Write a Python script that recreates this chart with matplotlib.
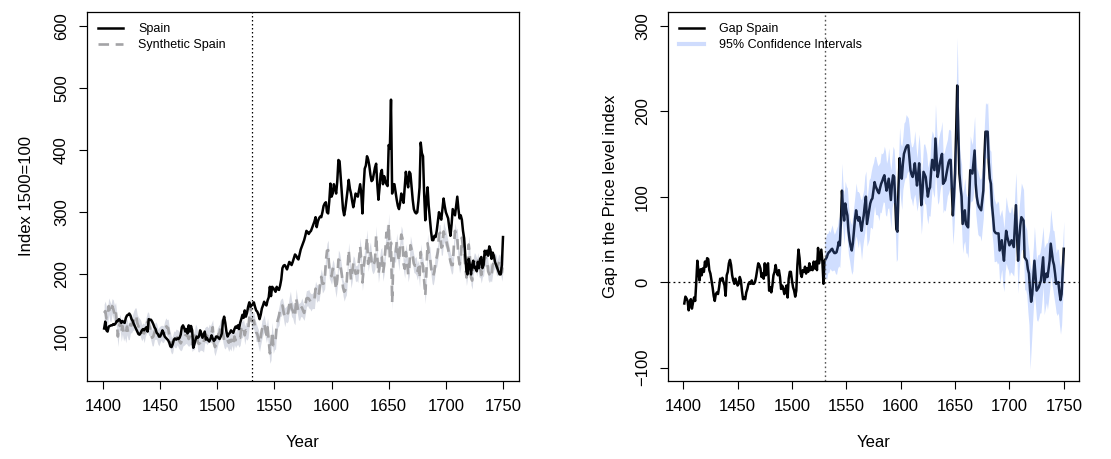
import matplotlib
matplotlib.use("Agg")
import matplotlib.pyplot as plt
import numpy as np
from matplotlib.lines import Line2D

plt.rcParams['font.family'] = ['Liberation Sans', 'DejaVu Sans']

years = np.arange(1401, 1751)

# price index of Spain (1500=100)
spain = [
    113, 124, 110, 108, 116, 117, 118, 118, 120, 119,
    121, 125, 125, 128, 126, 122, 125, 123, 122, 130,
    134, 135, 137, 134, 128, 125, 120, 116, 112, 108,
    104, 103, 106, 110, 112, 110, 113, 115, 108, 128,
    127, 127, 124, 120, 115, 112, 106, 104, 100, 100,
    104, 110, 106, 100, 98, 96, 94, 90, 84, 83,
    88, 95, 97, 95, 97, 96, 98, 103, 115, 118,
    114, 108, 112, 105, 118, 108, 117, 110, 82, 88,
    95, 100, 98, 100, 110, 105, 98, 103, 108, 95,
    98, 94, 92, 96, 102, 97, 93, 95, 100, 100,
    98, 96, 100, 105, 125, 132, 122, 108, 100, 104,
    106, 110, 108, 106, 112, 116, 114, 118, 112, 122,
    128, 135, 130, 142, 132, 138, 148, 155, 148, 150,
    152, 155, 148, 142, 140, 135, 128, 135, 145, 150,
    156, 152, 150, 158, 163, 180, 165, 180, 178, 175,
    172, 180, 176, 175, 182, 192, 210, 214, 215, 212,
    208, 214, 220, 218, 215, 220, 226, 232, 230, 226,
    224, 232, 240, 245, 250, 255, 262, 270, 268, 265,
    268, 270, 275, 280, 285, 292, 276, 285, 290, 293,
    292, 300, 310, 314, 316, 300, 298, 318, 346, 325,
    330, 345, 338, 330, 350, 384, 382, 355, 330, 305,
    295, 305, 320, 335, 352, 338, 330, 318, 308, 318,
    330, 328, 325, 335, 345, 330, 298, 340, 370, 375,
    390, 385, 375, 360, 350, 352, 362, 372, 378, 345,
    320, 340, 362, 368, 345, 358, 350, 345, 342, 408,
    402, 481, 330, 345, 345, 332, 320, 310, 305, 315,
    330, 322, 315, 340, 365, 350, 340, 365, 362, 340,
    320, 305, 300, 298, 300, 318, 340, 412, 395, 390,
    330, 287, 320, 340, 310, 290, 270, 255, 255, 262,
    260, 270, 285, 300, 292, 288, 305, 322, 310, 300,
    295, 290, 275, 262, 280, 305, 300, 295, 310, 325,
    305, 290, 295, 288, 270, 258, 230, 205, 200, 225,
    215, 200, 215, 222, 210, 212, 205, 220, 210, 225,
    228, 210, 215, 238, 232, 238, 230, 245, 240, 225,
    235, 230, 220, 215, 210, 205, 200, 200, 215, 260,
]

# gap Spain - synthetic Spain
gap = [
    -25, -17, -19, -22, -33, -24, -20, -31, -24, -18,
    -22, 0, 25, 12, 2, 15, 8, 16, 12, 24,
    18, 28, 27, 14, 10, 2, -6, -16, -22, -14,
    -12, -14, -6, 4, 2, 5, 0, -4, -16, 8,
    12, 22, 26, 20, 8, 2, -2, 4, 0, -4,
    -2, 6, 2, -10, -20, -18, -20, -12, -8, -2,
    0, -2, 2, -2, -2, 0, 6, 14, 22, 20,
    16, 6, 10, 4, 22, 8, 18, 22, -10, -6,
    -12, -4, 8, 12, 20, 12, 8, 14, 6, -8,
    -4, -8, -14, -8, -4, -18, 4, 12, 12, 2,
    -6, -10, -17, -10, 20, 38, 28, 10, 6, 14,
    12, 18, 10, 16, 12, 22, 14, 18, 14, 24,
    16, 24, 14, 40, 22, 30, 38, 24, -2, 25,
    27, 29, 33, 35, 36, 38, 39, 36, 34, 34,
    35, 40, 47, 43, 70, 107, 85, 72, 92, 84,
    78, 60, 49, 42, 37, 45, 60, 74, 84, 76,
    72, 76, 68, 60, 70, 78, 90, 100, 68, 76,
    84, 92, 96, 98, 108, 117, 112, 109, 106, 104,
    110, 115, 118, 122, 125, 115, 107, 114, 121, 108,
    96, 115, 125, 123, 95, 62, 59, 110, 145, 128,
    121, 138, 150, 154, 158, 160, 160, 145, 131, 126,
    123, 130, 139, 126, 113, 125, 139, 115, 90, 105,
    129, 126, 123, 112, 100, 108, 111, 130, 143, 137,
    131, 168, 145, 123, 130, 139, 145, 150, 115, 117,
    119, 126, 133, 140, 143, 143, 112, 78, 100, 127,
    175, 230, 175, 127, 112, 100, 68, 76, 84, 68,
    66, 64, 98, 131, 129, 127, 140, 154, 115, 100,
    92, 88, 86, 84, 96, 107, 146, 176, 176, 176,
    140, 121, 115, 90, 76, 60, 58, 57, 57, 57,
    37, 43, 49, 35, 25, 45, 60, 53, 48, 43,
    46, 49, 45, 41, 65, 90, 55, 25, 50, 66,
    76, 74, 72, 29, 27, 25, 15, 10, -10, -23,
    -14, 5, 25, 8, -10, -8, -6, -2, 2, 15,
    29, 0, 5, 10, 6, 15, 25, 45, 35, 25,
    20, 10, -2, -1, 0, -12, -21, -14, 12, 39,
]

# half width of the grey band around synthetic Spain
sc_half = [
    14, 16, 18, 15, 13, 16, 14, 12, 15, 13,
    12, 14, 16, 13, 12, 15, 13, 14, 12, 16,
    13, 12, 15, 14, 12, 13, 16, 14, 12, 13,
    15, 12, 14, 13, 12, 15, 13, 14, 16, 18,
    14, 12, 13, 15, 12, 14, 13, 12, 15, 13,
    12, 14, 13, 15, 12, 13, 14, 12, 15, 13,
    14, 12, 13, 15, 12, 14, 13, 12, 14, 13,
    12, 14, 13, 15, 12, 13, 14, 12, 13, 15,
    13, 12, 14, 13, 12, 15, 13, 14, 12, 13,
    15, 12, 14, 13, 16, 12, 13, 14, 12, 15,
    13, 14, 12, 13, 15, 12, 14, 13, 12, 14,
    13, 15, 12, 14, 13, 12, 14, 13, 15, 12,
    14, 13, 12, 15, 13, 14, 12, 13, 16, 14,
    12, 14, 13, 15, 12, 14, 13, 12, 15, 13,
    14, 12, 13, 15, 14, 16, 18, 15, 13, 12,
    14, 13, 12, 15, 13, 14, 12, 13, 15, 12,
    14, 13, 12, 15, 13, 12, 14, 13, 15, 12,
    13, 14, 12, 15, 13, 12, 14, 13, 12, 15,
    13, 14, 12, 13, 15, 12, 14, 13, 12, 14,
    13, 15, 12, 14, 13, 12, 16, 14, 12, 13,
    15, 12, 14, 13, 12, 15, 13, 14, 12, 13,
    15, 12, 14, 13, 12, 14, 13, 15, 12, 14,
    13, 12, 15, 13, 14, 12, 13, 15, 12, 14,
    13, 12, 14, 15, 13, 12, 14, 13, 15, 12,
    14, 13, 12, 15, 13, 14, 12, 13, 15, 17,
    14, 13, 12, 15, 13, 12, 14, 13, 15, 12,
    14, 13, 12, 15, 13, 14, 12, 13, 15, 12,
    13, 14, 12, 15, 13, 12, 14, 13, 15, 12,
    14, 13, 12, 15, 13, 14, 12, 13, 15, 12,
    13, 14, 12, 15, 13, 12, 14, 16, 15, 14,
    13, 12, 14, 13, 15, 12, 14, 13, 12, 15,
    13, 14, 12, 15, 13, 12, 14, 13, 15, 14,
    13, 12, 14, 13, 15, 12, 14, 13, 12, 15,
    13, 14, 12, 15, 13, 12, 14, 13, 15, 12,
    14, 13, 12, 15, 13, 14, 12, 13, 14, 15,
]

# 95% confidence interval of the gap, 1530-1750 (distance above / below)
ci_start = 1530
ci_up = [
    22, 25, 28, 24, 26, 22, 25, 28, 24, 22,
    25, 28, 26, 30, 28, 30, 32, 28, 30, 26,
    28, 32, 30, 26, 28, 30, 34, 30, 28, 32,
    30, 34, 28, 30, 36, 32, 30, 34, 30, 28,
    32, 36, 30, 34, 38, 32, 30, 35, 32, 30,
    34, 30, 36, 32, 30, 34, 38, 32, 30, 36,
    32, 35, 30, 34, 32, 36, 40, 34, 32, 36,
    34, 38, 32, 36, 34, 38, 34, 32, 36, 34,
    32, 36, 34, 38, 34, 32, 36, 34, 38, 36,
    34, 32, 36, 34, 38, 34, 32, 36, 38, 34,
    36, 34, 40, 36, 34, 38, 36, 34, 38, 36,
    34, 38, 36, 34, 38, 36, 34, 38, 36, 40,
    38, 45, 56, 42, 36, 34, 38, 36, 34, 38,
    36, 34, 38, 36, 40, 36, 34, 38, 40, 36,
    34, 38, 36, 34, 38, 36, 34, 38, 34, 32,
    34, 36, 34, 38, 36, 34, 38, 36, 34, 38,
    36, 40, 38, 36, 40, 38, 36, 40, 38, 36,
    38, 36, 40, 38, 36, 40, 38, 36, 40, 38,
    36, 40, 38, 36, 40, 38, 36, 30, 26, 30,
    36, 38, 36, 40, 38, 36, 40, 38, 36, 40,
    38, 36, 40, 38, 36, 40, 38, 36, 40, 38,
    36, 40, 38, 36, 40, 38, 36, 38, 36, 34,
    32,
]
ci_dn = [
    20, 22, 26, 22, 24, 20, 24, 26, 22, 20,
    24, 26, 24, 28, 26, 28, 30, 26, 28, 24,
    26, 30, 28, 24, 26, 28, 32, 28, 26, 30,
    28, 32, 26, 28, 34, 30, 28, 32, 28, 26,
    30, 34, 28, 32, 36, 30, 28, 33, 30, 28,
    32, 28, 34, 30, 28, 32, 36, 30, 28, 34,
    30, 33, 28, 32, 30, 34, 38, 32, 30, 34,
    32, 36, 30, 34, 32, 36, 32, 30, 34, 32,
    30, 34, 32, 36, 32, 30, 34, 32, 36, 34,
    32, 30, 34, 32, 36, 32, 30, 34, 36, 32,
    34, 32, 38, 34, 32, 36, 34, 32, 36, 34,
    32, 36, 34, 32, 36, 34, 32, 36, 34, 38,
    36, 40, 48, 40, 34, 32, 36, 34, 32, 36,
    34, 32, 36, 34, 38, 34, 32, 36, 38, 34,
    32, 36, 34, 32, 36, 34, 32, 36, 32, 30,
    32, 34, 32, 36, 34, 32, 36, 34, 32, 36,
    34, 38, 36, 34, 38, 36, 34, 38, 36, 34,
    36, 34, 38, 36, 34, 38, 36, 34, 38, 36,
    34, 38, 36, 34, 38, 36, 40, 50, 60, 92,
    55, 40, 36, 38, 36, 34, 38, 36, 34, 38,
    36, 34, 38, 36, 34, 38, 36, 34, 38, 36,
    34, 38, 36, 34, 38, 36, 38, 40, 36, 32,
    30,
]

spain = np.array(spain, dtype=float)
gap = np.array(gap, dtype=float)
synth = spain - gap
sc_half = np.array(sc_half, dtype=float)
ci_up = np.array(ci_up, dtype=float)
ci_dn = np.array(ci_dn, dtype=float)

fig = plt.figure(figsize=(11.11, 4.59), dpi=100)
W, H = 1111, 459
ax1 = fig.add_axes([87 / W, 1 - 381 / H, (519 - 87) / W, (381 - 12) / H])
ax2 = fig.add_axes([668 / W, 1 - 381 / H, (1079 - 668) / W, (381 - 12) / H])

# left panel
ax1.fill_between(years, synth - sc_half, synth + sc_half, color='#d8dbe4', lw=0)
ax1.plot(years, synth, color='#a3a3a6', lw=1.9, ls=(0, (4, 2.5)))
ax1.plot(years, spain, color='black', lw=1.8)
ax1.axvline(1530, color='black', lw=0.9, ls=(0, (1.2, 2)))
ax1.set_xlim(1386, 1764)
ax1.set_ylim(28.5, 622)
ax1.set_yticks([100, 200, 300, 400, 500, 600])
ax1.set_ylabel('Index 1500=100', fontsize=12, labelpad=14)
ax1.legend(handles=[Line2D([], [], color='black', lw=1.8),
                    Line2D([], [], color='#a3a3a6', lw=1.9, ls=(0, (4, 2.5)))],
           labels=['Spain', 'Synthetic Spain'], loc='upper left', frameon=False,
           fontsize=9, handlelength=2.0, labelspacing=0.3, borderaxespad=0.5,
           handletextpad=1.2)

# right panel: band drawn over the line, as in the original
ax2.plot(years, gap, color='black', lw=1.8)
m = years >= ci_start
ax2.fill_between(years[m], gap[m] - ci_dn, gap[m] + ci_up,
                 color=(0.34, 0.54, 1.0), alpha=0.28, lw=0, zorder=3)
ax2.axvline(1530, color='#555555', lw=1.0, ls=(0, (1.2, 2)), zorder=4)
ax2.axhline(0, color='black', lw=0.9, ls=(0, (1.5, 2.5)), zorder=4)
ax2.set_xlim(1386, 1764)
ax2.set_ylim(-115.7, 316)
ax2.set_yticks([-100, 0, 100, 200, 300])
ax2.set_ylabel('Gap in the Price level index', fontsize=12, labelpad=12)
ax2.legend(handles=[Line2D([], [], color='black', lw=1.8),
                    Line2D([], [], color='#cfdcfd', lw=3)],
           labels=['Gap Spain', '95% Confidence Intervals'], loc='upper left',
           frameon=False, fontsize=9, handlelength=2.0, labelspacing=0.3,
           borderaxespad=0.5, handletextpad=1.2)

for ax in (ax1, ax2):
    ax.set_xticks([1400, 1450, 1500, 1550, 1600, 1650, 1700, 1750])
    ax.set_xlabel('Year', fontsize=12, labelpad=15)
    ax.tick_params(direction='out', length=6, width=0.8, labelsize=12, pad=7)
    for lab in ax.get_yticklabels():
        lab.set_rotation(90)
        lab.set_va('center')
    for s in ax.spines.values():
        s.set_linewidth(0.9)

fig.savefig('out.png', dpi=100)
